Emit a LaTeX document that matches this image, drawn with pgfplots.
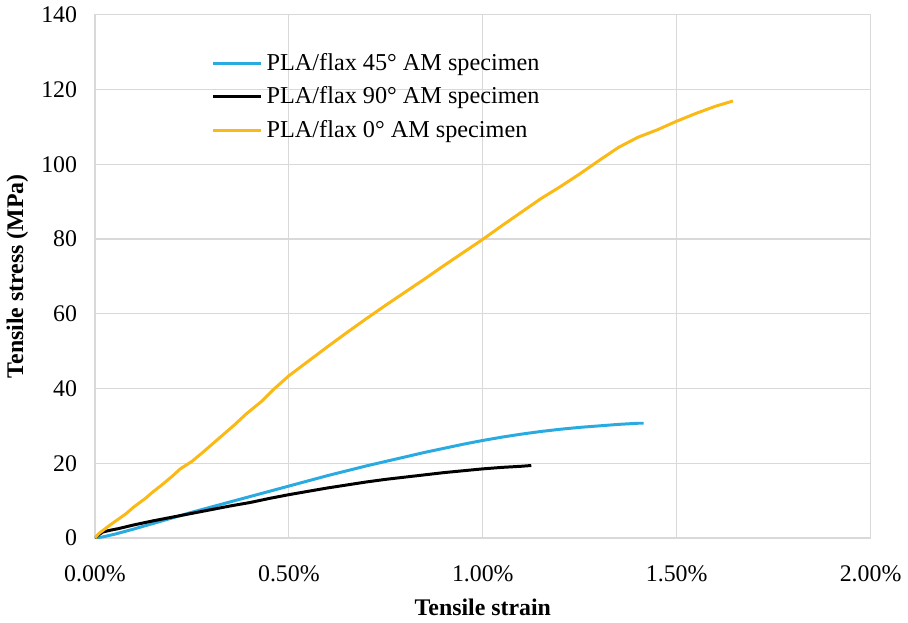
\documentclass[border=0pt]{standalone}
\usepackage{fontspec}
\setmainfont{Liberation Serif}
\usepackage{pgfplots}
\pgfplotsset{compat=1.18}
\definecolor{flaxblue}{RGB}{41,171,226}
\definecolor{flaxgold}{RGB}{250,185,20}
\definecolor{gridgray}{RGB}{217,217,217}

\pgfplotstableread{
x y
0 0
0.02 0.3
0.05 1.0
0.10 2.4
0.15 3.9
0.20 5.4
0.25 6.9
0.30 8.3
0.35 9.7
0.40 11.1
0.45 12.5
0.50 13.9
0.55 15.3
0.60 16.7
0.65 18.0
0.70 19.3
0.75 20.5
0.80 21.7
0.85 22.9
0.90 24.0
0.95 25.1
1.00 26.1
1.05 27.0
1.10 27.8
1.15 28.5
1.20 29.1
1.25 29.6
1.30 30.0
1.35 30.4
1.40 30.7
1.415 30.7
}\flaxfortyfive

\pgfplotstableread{
x y
0 0
0.01 0.9
0.02 1.6
0.04 2.1
0.06 2.5
0.08 3.0
0.10 3.5
0.15 4.6
0.20 5.6
0.25 6.6
0.30 7.6
0.35 8.6
0.40 9.5
0.45 10.6
0.50 11.6
0.55 12.5
0.60 13.4
0.65 14.2
0.70 15.0
0.75 15.7
0.80 16.3
0.85 16.9
0.90 17.5
0.95 18.0
1.00 18.5
1.05 18.9
1.10 19.2
1.125 19.4
}\flaxninety

\pgfplotstableread{
x y
0 0
0.01 1.2
0.03 2.8
0.05 4.3
0.08 6.5
0.10 8.3
0.13 10.6
0.15 12.4
0.17 14.0
0.20 16.6
0.22 18.5
0.25 20.5
0.28 23.1
0.30 24.9
0.33 27.6
0.36 30.3
0.39 33.2
0.41 34.9
0.43 36.6
0.46 39.7
0.50 43.4
0.55 47.3
0.60 51.2
0.65 55.0
0.70 58.7
0.75 62.3
0.80 65.8
0.85 69.3
0.90 72.9
0.95 76.4
1.00 79.9
1.05 83.6
1.10 87.2
1.15 90.8
1.20 94.0
1.25 97.4
1.30 101.0
1.35 104.5
1.40 107.2
1.45 109.2
1.50 111.5
1.55 113.6
1.60 115.5
1.645 116.9
}\flaxzero

\begin{document}
\begin{tikzpicture}
  \begin{axis}[
    width=390.5pt, height=263.5pt, scale only axis,
    xmin=0, xmax=2, ymin=0, ymax=140,
    xtick={0,0.5,1,1.5,2},
    xticklabels={0.00\%,0.50\%,1.00\%,1.50\%,2.00\%},
    ytick={0,20,...,140},
    /pgf/number format/assume math mode=true,
    tick label style={font=\fontsize{12}{14}\selectfont},
    xticklabel style={yshift=-10.5pt},
    yticklabel style={xshift=-5.5pt},
    major tick length=0pt,
    grid=major, major grid style={draw=gridgray, line width=0.6pt},
    axis line style={draw=gridgray, line width=0.6pt},
    xlabel={\textbf{Tensile strain}},
    ylabel={\textbf{Tensile stress (MPa)}},
    label style={font=\fontsize{12}{14}\selectfont},
    xlabel style={at={(axis description cs:0.5,-0.133)}, anchor=center},
    ylabel style={at={(axis description cs:-0.1,0.5)}, anchor=center},
    legend style={draw=none, fill=none, at={(axis description cs:0.15,0.935)},
      anchor=north west, font=\fontsize{12.2}{14}\selectfont,
      row sep=2.8pt, inner sep=0pt, cells={anchor=west}},
    legend image post style={line width=1.5pt},
    legend image code/.code={\draw[#1] (0cm,0cm) -- (0.85cm,0cm);},
  ]
    \addplot[flaxblue, line width=1.5pt] table[x=x,y=y] {\flaxfortyfive};
    \addplot[black, line width=1.5pt] table[x=x,y=y] {\flaxninety};
    \addplot[flaxgold, line width=1.5pt] table[x=x,y=y] {\flaxzero};
    \legend{PLA/flax 45° AM specimen, PLA/flax 90° AM specimen, PLA/flax 0° AM specimen}
  \end{axis}
\end{tikzpicture}
\end{document}
